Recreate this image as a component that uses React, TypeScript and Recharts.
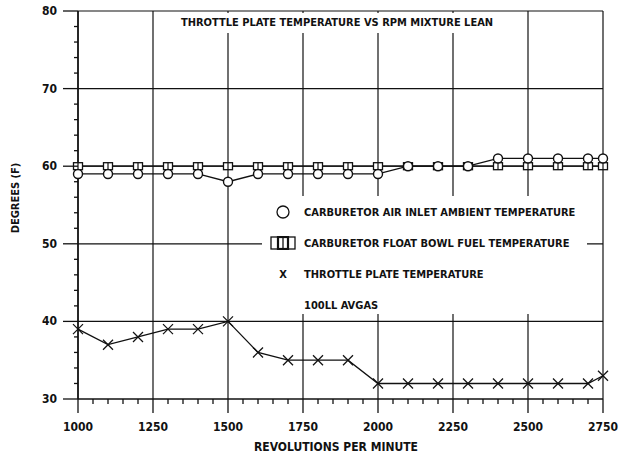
import React from "react";
import { LineChart, Line, XAxis, YAxis, CartesianGrid } from "recharts";

// rpm readings (last one is the 2750 end point)
const rpm = [
  1000, 1100, 1200, 1300, 1400, 1500, 1600, 1700, 1800, 1900, 2000, 2100,
  2200, 2300, 2400, 2500, 2600, 2700, 2750,
];
const airInlet = [59, 59, 59, 59, 59, 58, 59, 59, 59, 59, 59, 60, 60, 60, 61, 61, 61, 61, 61];
const floatBowl = [60, 60, 60, 60, 60, 60, 60, 60, 60, 60, 60, 60, 60, 60, 60, 60, 60, 60, 60];
const throttlePlate = [39, 37, 38, 39, 39, 40, 36, 35, 35, 35, 32, 32, 32, 32, 32, 32, 32, 32, 33];

const xMajor = [1000, 1250, 1500, 1750, 2000, 2250, 2500, 2750];
const yMajor = [30, 40, 50, 60, 70, 80];
const xTicks = Array.from({ length: 36 }, (_, i) => 1000 + i * 50);
const yTicks = Array.from({ length: 26 }, (_, i) => 30 + i * 2);

const legendItems = [
  { key: "air", label: "CARBURETOR AIR INLET AMBIENT TEMPERATURE" },
  { key: "bowl", label: "CARBURETOR FLOAT BOWL FUEL TEMPERATURE" },
  { key: "plate", label: "THROTTLE PLATE TEMPERATURE" },
  { key: "fuel", label: "100LL AVGAS" },
];

const data = rpm.map((r, i) => ({
  rpm: r,
  air: airInlet[i],
  bowl: floatBowl[i],
  plate: throttlePlate[i],
}));

const FONT = "'DejaVu Sans Condensed', 'Liberation Sans Narrow', Arial, sans-serif";
const INK = "#111";

const CircleDot = (props: any) => {
  const { cx, cy, index } = props;
  return (
    <circle key={`c${index}`} cx={cx} cy={cy} r={4.5} fill="#fff" stroke={INK} strokeWidth={1.4} />
  );
};

const BoxDot = (props: any) => {
  const { cx, cy, index } = props;
  return (
    <g key={`b${index}`}>
      <rect x={cx - 4.5} y={cy - 3.5} width={9} height={7} fill="#fff" stroke={INK} strokeWidth={1.3} />
      <line x1={cx} x2={cx} y1={cy - 3.5} y2={cy + 3.5} stroke={INK} strokeWidth={1.2} />
    </g>
  );
};

const CrossDot = (props: any) => {
  const { cx, cy, index } = props;
  const s = 5;
  return (
    <g key={`x${index}`}>
      <line x1={cx - s} y1={cy - s} x2={cx + s} y2={cy + s} stroke={INK} strokeWidth={1.3} />
      <line x1={cx - s} y1={cy + s} x2={cx + s} y2={cy - s} stroke={INK} strokeWidth={1.3} />
    </g>
  );
};

const YTick = (props: any) => {
  const { x, y, payload } = props;
  const major = payload.value % 10 === 0;
  return (
    <g>
      <line x1={x - (major ? 15 : 4)} x2={x} y1={y} y2={y} stroke={INK} strokeWidth={1.3} />
      {major && (
        <text x={x - 21} y={y + 4} textAnchor="end" fontFamily={FONT} fontWeight="bold" fontSize={12} fill={INK}>
          {payload.value}
        </text>
      )}
    </g>
  );
};

const XTick = (props: any) => {
  const { x, y, payload } = props;
  const major = (payload.value - 1000) % 250 === 0;
  return (
    <g>
      <line x1={x} x2={x} y1={y} y2={y + (major ? 14 : 5)} stroke={INK} strokeWidth={1.3} />
      {major && (
        <text x={x} y={y + 32} textAnchor="middle" fontFamily={FONT} fontWeight="bold" fontSize={12} fill={INK}>
          {payload.value}
        </text>
      )}
    </g>
  );
};

function LegendBox() {
  const symbol = (key: string) => {
    if (key === "air")
      return (
        <svg width={16} height={16}>
          <circle cx={8} cy={8} r={6} fill="none" stroke={INK} strokeWidth={1.3} />
        </svg>
      );
    if (key === "bowl")
      return (
        <svg width={26} height={14}>
          <rect x={1} y={1} width={24} height={12} fill="none" stroke={INK} strokeWidth={1.3} />
          <rect x={8} y={1} width={10} height={12} fill="none" stroke={INK} strokeWidth={2.2} />
          <line x1={13} x2={13} y1={1} y2={13} stroke={INK} strokeWidth={1.3} />
        </svg>
      );
    if (key === "plate")
      return <span style={{ fontSize: 11, fontWeight: "bold" }}>X</span>;
    return null;
  };
  return (
    <div
      style={{
        position: "absolute",
        left: 262,
        top: 196,
        width: 325,
        height: 118,
        background: "#fff",
        fontFamily: FONT,
        color: INK,
      }}
    >
      {legendItems.map((item, i) => (
        <div
          key={item.key}
          style={{
            position: "absolute",
            top: 8 + i * 31,
            left: 0,
            height: 16,
            display: "flex",
            alignItems: "center",
            whiteSpace: "nowrap",
          }}
        >
          <div style={{ width: 42, display: "flex", justifyContent: "center" }}>{symbol(item.key)}</div>
          <span style={{ fontSize: 11, fontWeight: "bold" }}>{item.label}</span>
        </div>
      ))}
    </div>
  );
}

export default function App() {
  return (
    <div style={{ position: "absolute", left: 0, top: 0, width: 629, height: 460, background: "#fff" }}>
      <LineChart width={629} height={460} data={data} margin={{ top: 11, right: 26, left: 0, bottom: 31 }}>
        <CartesianGrid
          stroke={INK}
          strokeWidth={1.2}
          horizontalValues={yMajor.filter((v) => v > 30)}
          verticalValues={xMajor}
        />
        <XAxis
          dataKey="rpm"
          type="number"
          domain={[1000, 2750]}
          ticks={xTicks}
          interval={0}
          height={30}
          tickSize={0}
          tickMargin={0}
          tickLine={false}
          axisLine={{ stroke: INK, strokeWidth: 1.5 }}
          tick={<XTick />}
          label={{
            value: "REVOLUTIONS PER MINUTE",
            content: () => (
              <text x={336} y={451} textAnchor="middle" fontFamily={FONT} fontWeight="bold" fontSize={12} fill={INK}>
                REVOLUTIONS PER MINUTE
              </text>
            ),
          }}
        />
        <YAxis
          type="number"
          domain={[30, 80]}
          ticks={yTicks}
          interval={0}
          width={78}
          tickSize={0}
          tickMargin={0}
          tickLine={false}
          axisLine={{ stroke: INK, strokeWidth: 1.5 }}
          tick={<YTick />}
          label={{
            value: "DEGREES (F)",
            content: () => (
              <text
                x={16}
                y={198}
                transform="rotate(-90 16 198)"
                textAnchor="middle"
                dominantBaseline="middle"
                fontFamily={FONT}
                fontWeight="bold"
                fontSize={11}
                fill={INK}
              >
                DEGREES (F)
              </text>
            ),
          }}
        />
        <Line dataKey="plate" stroke={INK} strokeWidth={1.3} dot={CrossDot} isAnimationActive={false} />
        <Line dataKey="bowl" stroke={INK} strokeWidth={1.3} dot={BoxDot} isAnimationActive={false} />
        <Line dataKey="air" stroke={INK} strokeWidth={1.3} dot={CircleDot} isAnimationActive={false} />
      </LineChart>
      <LegendBox />
      <div
        style={{
          position: "absolute",
          left: 176,
          top: 13,
          width: 322,
          height: 20,
          background: "#fff",
          fontFamily: FONT,
          fontWeight: "bold",
          fontSize: 11,
          color: INK,
          textAlign: "center",
          lineHeight: "20px",
          whiteSpace: "nowrap",
        }}
      >
        THROTTLE PLATE TEMPERATURE VS RPM MIXTURE LEAN
      </div>
    </div>
  );
}
